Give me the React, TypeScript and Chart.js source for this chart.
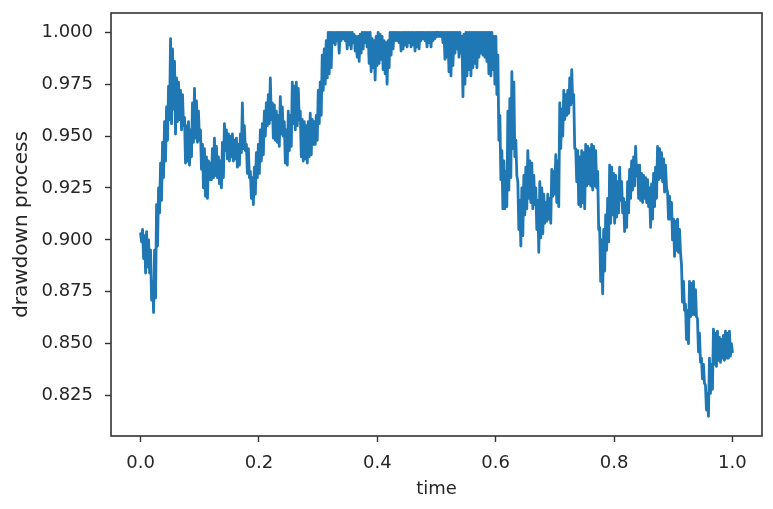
import React, { useEffect, useRef } from "react";
import { Chart, registerables } from "chart.js";

Chart.register(...registerables);

// drawdown process values (time runs uniformly from 0 to 1).
// The path is very noisy: values swing between the top and the bottom of the band.
const drawdownA = [
  0.903, 0.899, 0.905, 0.891, 0.902, 0.884, 0.904, 0.887, 0.900, 0.884,
  0.895, 0.871, 0.880, 0.865, 0.895, 0.872, 0.917, 0.897, 0.925, 0.913,
  0.937, 0.919, 0.947, 0.930, 0.957, 0.938, 0.964, 0.948, 0.974, 0.958,
  0.997, 0.956, 0.992, 0.963, 0.986, 0.951, 0.978, 0.957, 0.976, 0.958,
  0.972, 0.953, 0.970, 0.955, 0.959, 0.937, 0.955, 0.938, 0.957, 0.936,
  0.953, 0.940, 0.966, 0.947, 0.973, 0.949, 0.967, 0.947, 0.962, 0.948,
  0.953, 0.934, 0.946, 0.925, 0.944, 0.921, 0.940, 0.920, 0.938, 0.929,
  0.937, 0.929, 0.944, 0.930, 0.949, 0.931, 0.945, 0.930, 0.940, 0.927,
  0.938, 0.925, 0.947, 0.930, 0.956, 0.943, 0.953, 0.939, 0.951, 0.938,
  0.950, 0.940, 0.951, 0.938, 0.948, 0.939, 0.949, 0.935, 0.946, 0.936,
];
const drawdownB = [
  0.951, 0.942, 0.966, 0.944, 0.955, 0.943, 0.946, 0.932, 0.944, 0.930,
  0.933, 0.920, 0.930, 0.917, 0.935, 0.922, 0.942, 0.930, 0.946, 0.932,
  0.953, 0.938, 0.956, 0.941, 0.962, 0.950, 0.966, 0.955, 0.970, 0.956,
  0.978, 0.958, 0.966, 0.949, 0.965, 0.948, 0.962, 0.947, 0.960, 0.945,
  0.969, 0.951, 0.964, 0.950, 0.957, 0.937, 0.953, 0.936, 0.962, 0.943,
  0.960, 0.945, 0.976, 0.956, 0.974, 0.953, 0.976, 0.955, 0.973, 0.958,
  0.962, 0.940, 0.958, 0.938, 0.957, 0.939, 0.955, 0.937, 0.957, 0.940,
  0.961, 0.941, 0.958, 0.946, 0.957, 0.946, 0.960, 0.948, 0.972, 0.956,
  0.976, 0.960, 0.989, 0.972, 0.992, 0.975, 0.996, 0.978, 1.0, 0.980,
  1.0, 0.983, 1.0, 0.995, 1.0, 0.994, 1.0, 0.996, 1.0, 0.990,
];
const drawdownC = [
  1.0, 0.996, 1.0, 0.997, 1.0, 0.996, 1.0, 0.992, 1.0, 0.994,
  1.0, 0.992, 1.0, 0.995, 0.999, 0.991, 0.998, 0.988, 0.998, 0.986,
  0.999, 0.990, 1.0, 0.992, 1.0, 0.995, 1.0, 0.993, 1.0, 0.985,
  1.0, 0.981, 0.997, 0.983, 0.996, 0.977, 0.998, 0.984, 1.0, 0.985,
  0.999, 0.987, 0.998, 0.982, 0.996, 0.980, 0.995, 0.975, 0.996, 0.983,
  1.0, 0.989, 1.0, 0.992, 1.0, 0.996, 1.0, 0.996, 1.0, 0.995,
  1.0, 0.991, 1.0, 0.992, 1.0, 0.994, 1.0, 0.993, 1.0, 0.995,
  1.0, 0.993, 1.0, 0.994, 1.0, 0.991, 1.0, 0.993, 1.0, 0.992,
  1.0, 0.996, 1.0, 0.997, 1.0, 0.996, 1.0, 0.993, 1.0, 0.995,
  1.0, 0.993, 1.0, 0.996, 1.0, 0.997, 1.0, 0.998, 1.0, 0.998,
];
const drawdownD = [
  1.0, 0.998, 1.0, 0.995, 1.0, 0.987, 1.0, 0.988, 1.0, 0.981,
  1.0, 0.979, 1.0, 0.984, 1.0, 0.990, 1.0, 0.992, 1.0, 0.988,
  1.0, 0.990, 0.998, 0.969, 0.999, 0.975, 1.0, 0.979, 1.0, 0.982,
  1.0, 0.979, 1.0, 0.983, 1.0, 0.985, 1.0, 0.983, 1.0, 0.988,
  1.0, 0.990, 1.0, 0.989, 1.0, 0.988, 1.0, 0.986, 1.0, 0.980,
  1.0, 0.979, 1.0, 0.982, 0.998, 0.975, 0.998, 0.970, 0.989, 0.948,
  0.960, 0.929, 0.943, 0.915, 0.938, 0.915, 0.933, 0.916, 0.962, 0.924,
  0.968, 0.930, 0.981, 0.944, 0.976, 0.940, 0.948, 0.931, 0.928, 0.905,
  0.919, 0.897, 0.925, 0.902, 0.931, 0.912, 0.935, 0.915, 0.943, 0.920,
  0.938, 0.918, 0.937, 0.915, 0.931, 0.917, 0.925, 0.905, 0.919, 0.894,
];
const drawdownE = [
  0.928, 0.901, 0.925, 0.903, 0.922, 0.908, 0.918, 0.909, 0.922, 0.910,
  0.920, 0.908, 0.934, 0.921, 0.933, 0.922, 0.941, 0.918, 0.938, 0.916,
  0.966, 0.944, 0.963, 0.950, 0.972, 0.958, 0.970, 0.960, 0.972, 0.961,
  0.978, 0.965, 0.982, 0.966, 0.970, 0.944, 0.944, 0.928, 0.943, 0.917,
  0.940, 0.916, 0.943, 0.918, 0.942, 0.915, 0.946, 0.926, 0.945, 0.927,
  0.944, 0.926, 0.946, 0.924, 0.945, 0.926, 0.943, 0.925, 0.933, 0.905,
  0.906, 0.880, 0.900, 0.874, 0.905, 0.885, 0.912, 0.895, 0.920, 0.899,
  0.936, 0.908, 0.935, 0.912, 0.932, 0.908, 0.931, 0.911, 0.928, 0.913,
  0.935, 0.919, 0.928, 0.913, 0.920, 0.904, 0.918, 0.906, 0.928, 0.913,
  0.934, 0.920, 0.938, 0.924, 0.940, 0.926, 0.945, 0.931, 0.936, 0.920,
];
const drawdownF = [
  0.936, 0.919, 0.932, 0.918, 0.931, 0.920, 0.930, 0.918, 0.929, 0.916,
  0.925, 0.906, 0.927, 0.910, 0.932, 0.916, 0.935, 0.920, 0.945, 0.929,
  0.944, 0.930, 0.942, 0.928, 0.939, 0.923, 0.936, 0.925, 0.923, 0.910,
  0.921, 0.910, 0.918, 0.900, 0.910, 0.892, 0.909, 0.895, 0.910, 0.894,
  0.905, 0.894, 0.888, 0.870, 0.880, 0.866, 0.869, 0.852, 0.866, 0.850,
  0.880, 0.863, 0.879, 0.864, 0.880, 0.864, 0.876, 0.863, 0.862, 0.846,
  0.855, 0.841, 0.843, 0.833, 0.840, 0.831, 0.830, 0.818, 0.826, 0.815,
  0.843, 0.826, 0.840, 0.828, 0.857, 0.840, 0.855, 0.839, 0.856, 0.842,
  0.853, 0.841, 0.852, 0.843, 0.854, 0.842, 0.856, 0.843, 0.855, 0.843,
  0.856, 0.844, 0.850, 0.846,
];

const drawdown = [
  ...drawdownA,
  ...drawdownB,
  ...drawdownC,
  ...drawdownD,
  ...drawdownE,
  ...drawdownF,
];

const xTickValues = [0.0, 0.2, 0.4, 0.6, 0.8, 1.0];
const yTickValues = [0.825, 0.85, 0.875, 0.9, 0.925, 0.95, 0.975, 1.0];
const xAxisTitle = "time";
const yAxisTitle = "drawdown process";

const frame = {
  id: "frame",
  afterDraw(chart: any) {
    const { ctx, chartArea } = chart;
    ctx.save();
    ctx.strokeStyle = "#333";
    ctx.lineWidth = 1.6;
    ctx.strokeRect(chartArea.left, chartArea.top, chartArea.right - chartArea.left, chartArea.bottom - chartArea.top);
    ctx.restore();
  },
};

export default function App() {
  const ref = useRef<HTMLCanvasElement>(null);
  useEffect(() => {
    document.body.style.margin = "0";
    const n = drawdown.length;
    const points = drawdown.map((v, i) => ({ x: i / (n - 1), y: v }));
    const font = { family: "'DejaVu Sans', sans-serif", size: 18 };
    const titleFontY = { family: "'DejaVu Sans', sans-serif", size: 20 };
    const textColor = "#262626";
    const chart = new Chart(ref.current as HTMLCanvasElement, {
      type: "line",
      data: {
        datasets: [
          {
            data: points,
            borderColor: "#1f77b4",
            borderWidth: 2.8,
            pointRadius: 0,
            borderJoinStyle: "round",
            borderCapStyle: "round",
            tension: 0,
            fill: false,
          },
        ],
      },
      options: {
        animation: false,
        responsive: false,
        devicePixelRatio: 1,
        layout: { padding: { left: 0, right: 11, top: 13, bottom: 0 } },
        plugins: { legend: { display: false }, tooltip: { enabled: false } },
        scales: {
          x: {
            type: "linear",
            min: -0.05,
            max: 1.05,
            afterBuildTicks: (s: any) => {
              s.ticks = xTickValues.map((v) => ({ value: v }));
            },
            afterFit: (s: any) => {
              s.height = 73;
              s.paddingLeft = 0;
              s.paddingRight = 0;
            },
            ticks: {
              font,
              color: textColor,
              padding: 11,
              maxRotation: 0,
              autoSkip: false,
              callback: (v: any) => Number(v).toFixed(1),
            },
            grid: { drawOnChartArea: false, drawTicks: true, tickLength: 6, tickColor: "#333", tickWidth: 1.4 },
            border: { display: false },
            title: { display: true, text: xAxisTitle, font, color: textColor, padding: { top: 0, bottom: 9 } },
          },
          y: {
            type: "linear",
            min: 0.8055,
            max: 1.0093,
            afterBuildTicks: (s: any) => {
              s.ticks = yTickValues.map((v) => ({ value: v }));
            },
            afterFit: (s: any) => {
              s.width = 111;
              s.paddingTop = 0;
              s.paddingBottom = 0;
            },
            ticks: {
              font,
              color: textColor,
              padding: 12,
              autoSkip: false,
              callback: (v: any) => Number(v).toFixed(3),
            },
            grid: { drawOnChartArea: false, drawTicks: true, tickLength: 6, tickColor: "#333", tickWidth: 1.4 },
            border: { display: false },
            title: { display: true, text: yAxisTitle, font: titleFontY, color: textColor, padding: { top: 10, bottom: 0 } },
          },
        },
      },
      plugins: [frame],
    } as any);
    return () => chart.destroy();
  }, []);
  return (
    <div style={{ position: "absolute", left: 0, top: 0 }}>
      <canvas ref={ref} width={773} height={509} style={{ display: "block" }} />
    </div>
  );
}
